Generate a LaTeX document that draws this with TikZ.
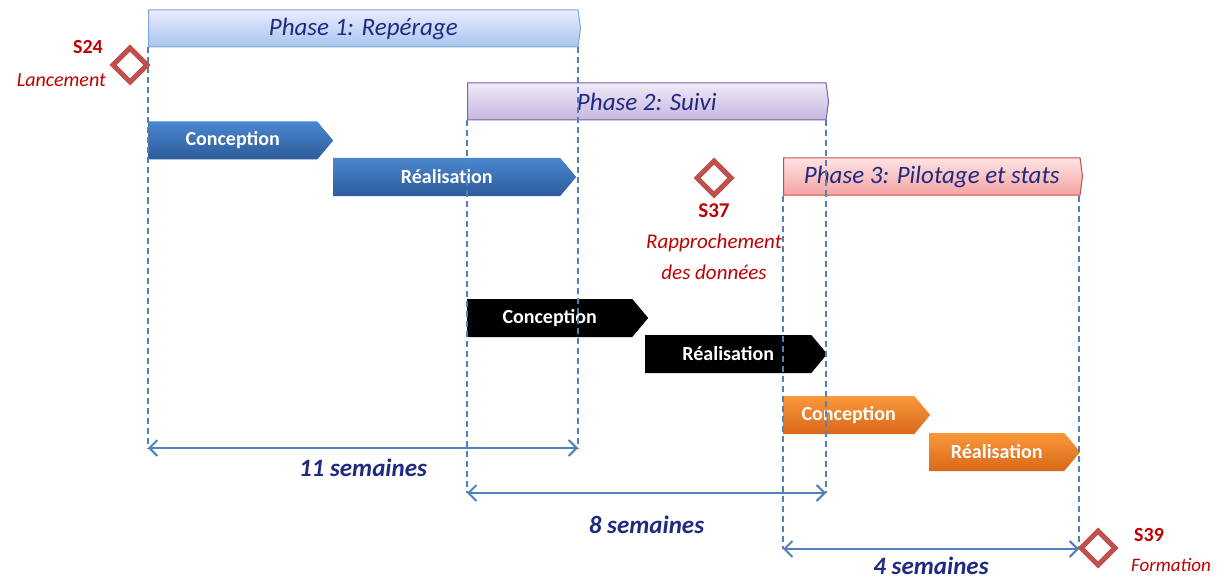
\documentclass[tikz,border=0pt]{standalone}
\usepackage{fontspec}
\setmainfont{Carlito}
\usetikzlibrary{positioning, shapes.symbols, shapes.geometric, arrows.meta}

\definecolor{navytext}{HTML}{1F2A80}
\definecolor{guideblue}{HTML}{4F81BD}
\definecolor{msred}{HTML}{C0504D}
\definecolor{lblred}{HTML}{C00000}

\begin{document}
\begin{tikzpicture}
        [x=1pt, y=-1pt,
            phase/.style={signal, signal to=east, signal pointer angle=165, minimum height=37pt, inner sep=0pt, line width=1pt, text=navytext, font=\fontsize{25}{28}\selectfont\itshape},
            task/.style={signal, signal to=east, signal pointer angle=100, minimum height=38pt, inner sep=0pt, text=white, font=\fontsize{20}{22}\selectfont\bfseries},
            milestone/.style={diamond, draw=msred, fill=white, line width=5pt, minimum width=36pt, minimum height=36pt, inner sep=0pt},
            mslabel/.style={text=lblred, inner sep=0pt, font=\fontsize{21}{31}\selectfont},
            guide/.style={draw=guideblue, line width=1.6pt, dash pattern=on 6pt off 4pt},
            span/.style={draw=guideblue, line width=2pt, {Straight Barb[length=8pt, width=16pt]}-{Straight Barb[length=8pt, width=16pt]}},
            weeks/.style={text=navytext, inner sep=0pt, font=\fontsize{25}{27}\selectfont\bfseries\itshape}
        ]
        \useasboundingbox (0,0) rectangle (1225,580);

        % phases
        \node (ph1) [phase, anchor=west, minimum width=432pt, top color=blue!8, bottom color={rgb,255:red,167;green,197;blue,238}, draw={rgb,255:red,126;green,166;blue,219}] at (148,28.5) {Phase 1: Repérage};
        \node (ph2) [phase, anchor=west, minimum width=361pt, top color={rgb,255:red,240;green,234;blue,248}, bottom color={rgb,255:red,198;green,182;blue,224}, draw={rgb,255:red,123;green,97;blue,168}] at (467,101.5) {Phase 2: Suivi};
        \node (ph3) [phase, anchor=west, minimum width=299pt, top color={rgb,255:red,255;green,227;blue,227}, bottom color={rgb,255:red,245;green,163;blue,162}, draw=msred] at (783,176.5) {Phase 3: Pilotage et stats};

        % tasks
        \node (conc1) [task, anchor=west, minimum width=185pt, top color={rgb,255:red,74;green,134;blue,207}, bottom color={rgb,255:red,45;green,92;blue,154}] at (148,140.5) {Conception};
        \node (real1) [task, anchor=west, minimum width=243pt, top color={rgb,255:red,74;green,134;blue,207}, bottom color={rgb,255:red,45;green,92;blue,154}] at (333,177) {Réalisation};
        \node (conc2) [task, anchor=west, minimum width=181pt, fill=black] at (467,318) {Conception};
        \node (real2) [task, anchor=west, minimum width=182pt, fill=black] at (645,354) {Réalisation};
        \node (conc3) [task, anchor=west, minimum width=147pt, top color={rgb,255:red,250;green,152;blue,58}, bottom color={rgb,255:red,217;green,104;blue,26}] at (783,415) {Conception};
        \node (real3) [task, anchor=west, minimum width=151pt, top color={rgb,255:red,250;green,152;blue,58}, bottom color={rgb,255:red,217;green,104;blue,26}] at (929,452) {Réalisation};

        % ends of the guides
        \coordinate (p1a) at (148,448);
        \coordinate (p1b) at (578,448);
        \coordinate (p2a) at (467,493);
        \coordinate (p2b) at (826,493);
        \coordinate (p3a) at (783,549);
        \coordinate (p3b) at (1079,549);

        \draw[guide] (ph1.south west) -- (p1a);
        \draw[guide] (ph1.south west -| p1b) -- (p1b);
        \draw[guide] (ph2.south west) -- (p2a);
        \draw[guide] (ph2.south west -| p2b) -- (p2b);
        \draw[guide] (ph3.south west) -- (p3a);
        \draw[guide] (ph3.south west -| p3b) -- (p3b);

        \draw[span] (p1a) -- node[weeks, below=10pt] {11 semaines} (p1b);
        \draw[span] (p2a) -- node[weeks, below=22pt] {8 semaines} (p2b);
        \draw[span] (p3a) -- node[weeks, below=7pt] {4 semaines} (p3b);

        % milestones
        \node (s24) [milestone] at (130,65) {};
        \node (s24n) [mslabel, anchor=east, font=\fontsize{20}{22}\selectfont\bfseries] at (103,47) {S24};
        \node (s24t) [mslabel, anchor=east, font=\fontsize{20}{22}\selectfont\itshape] at (106,80) {Lancement};

        \node (s37) [milestone] at (714,178) {};
        \node (s37t) [mslabel, align=center, below=5pt of s37] {{\bfseries S37}\\ \itshape Rapprochement\\ \itshape des données};

        \node (s39) [milestone] at (1098,548) {};
        \node (s39n) [mslabel, anchor=west, font=\fontsize{20}{22}\selectfont\bfseries] at (1134,535) {S39};
        \node (s39t) [mslabel, anchor=west, font=\fontsize{19}{21}\selectfont\itshape] at (1131,565) {Formation};
    \end{tikzpicture}
\end{document}
